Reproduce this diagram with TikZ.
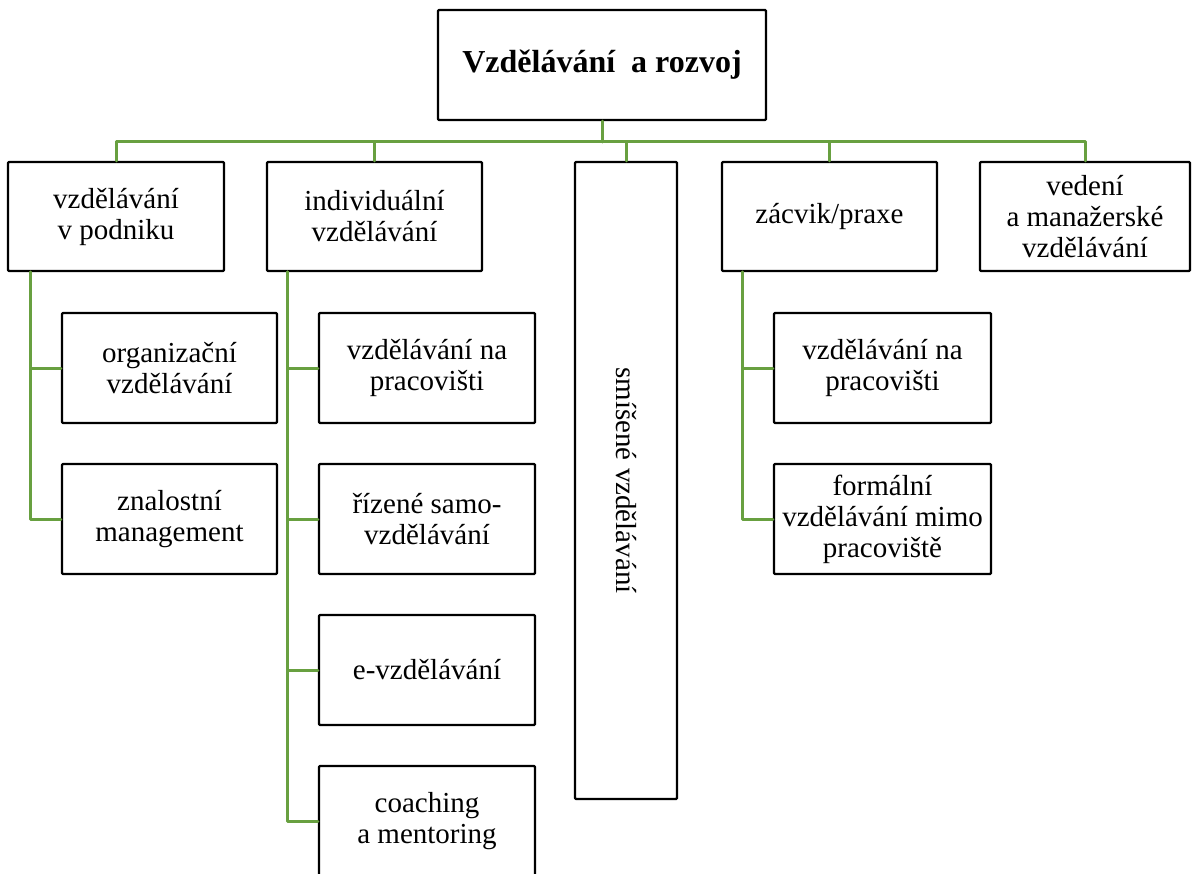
\documentclass[tikz,border=0pt]{standalone}
\usepackage{fontspec}
\setmainfont{Liberation Serif}
\definecolor{zelena}{RGB}{104,160,64}
\begin{document}
\begin{tikzpicture}[x=1pt, y=-1pt, line join=round, line cap=round,
	box/.style={draw, line width=2.4pt, rounded corners=1pt, align=center, inner sep=0pt, minimum width=215pt, minimum height=110pt, font=\fontsize{29}{31}\selectfont},
	vetev/.style={draw=zelena, line width=3pt}]
				\useasboundingbox (0,0) rectangle (1193,874);
				\node[box, minimum width=328pt, font=\fontsize{32}{36}\selectfont\bfseries] (hlavni) at (602,65) {Vzdělávání\ \ a rozvoj};
				\node[box, minimum width=216pt, minimum height=109pt] (podnik) at (116,216.5) {vzdělávání\\v podniku};
				\node[box, minimum height=109pt] (individ) at (374.5,216.5) {individuální\\vzdělávání};
				\node[box, minimum width=637pt, minimum height=102pt, rotate=-90] (smisene) at (626,480.5) {smíšené vzdělávání};
				\node[box, minimum height=109pt] (zacvik) at (829.5,216.5) {zácvik/praxe};
				\node[box, minimum width=210pt, minimum height=109pt] (vedeni) at (1085,216.5) {vedení\\a manažerské\\vzdělávání};
				\node[box] (organiz) at (169.5,368) {organizační\\vzdělávání};
				\node[box] (znalost) at (169.5,519) {znalostní\\management};
				\node[box, minimum width=216pt] (pracov) at (427,368) {vzdělávání na\\pracovišti};
				\node[box, minimum width=216pt] (rizene) at (427,519) {řízené samo-\\vzdělávání};
				\node[box, minimum width=216pt] (evzdel) at (427,670) {e-vzdělávání};
				\node[box, minimum width=216pt] (coaching) at (427,821) {coaching\\a mentoring};
				\node[box, minimum width=217pt] (pracovz) at (882.5,368) {vzdělávání na\\pracovišti};
				\node[box, minimum width=217pt] (formal) at (882.5,519) {formální\\vzdělávání mimo\\pracoviště};
				\coordinate (rozcesti) at (602,142);
				\draw[vetev] (hlavni.south) -- (rozcesti);
				\draw[vetev] (podnik.north) -- (podnik.north |- rozcesti) -- (vedeni.north |- rozcesti) -- (vedeni.north);
				\foreach \n in {individ, zacvik} \draw[vetev] (\n.north) -- (\n.north |- rozcesti);
				\draw[vetev] (smisene.west) -- (smisene.west |- rozcesti);
				\foreach \n in {organiz, znalost} \draw[vetev] ([xshift=24pt]podnik.south west) |- (\n.west);
				\foreach \n in {pracov, rizene, evzdel, coaching} \draw[vetev] ([xshift=22pt]individ.south west) |- (\n.west);
				\foreach \n in {pracovz, formal} \draw[vetev] ([xshift=22pt]zacvik.south west) |- (\n.west);
\end{tikzpicture}
\end{document}
